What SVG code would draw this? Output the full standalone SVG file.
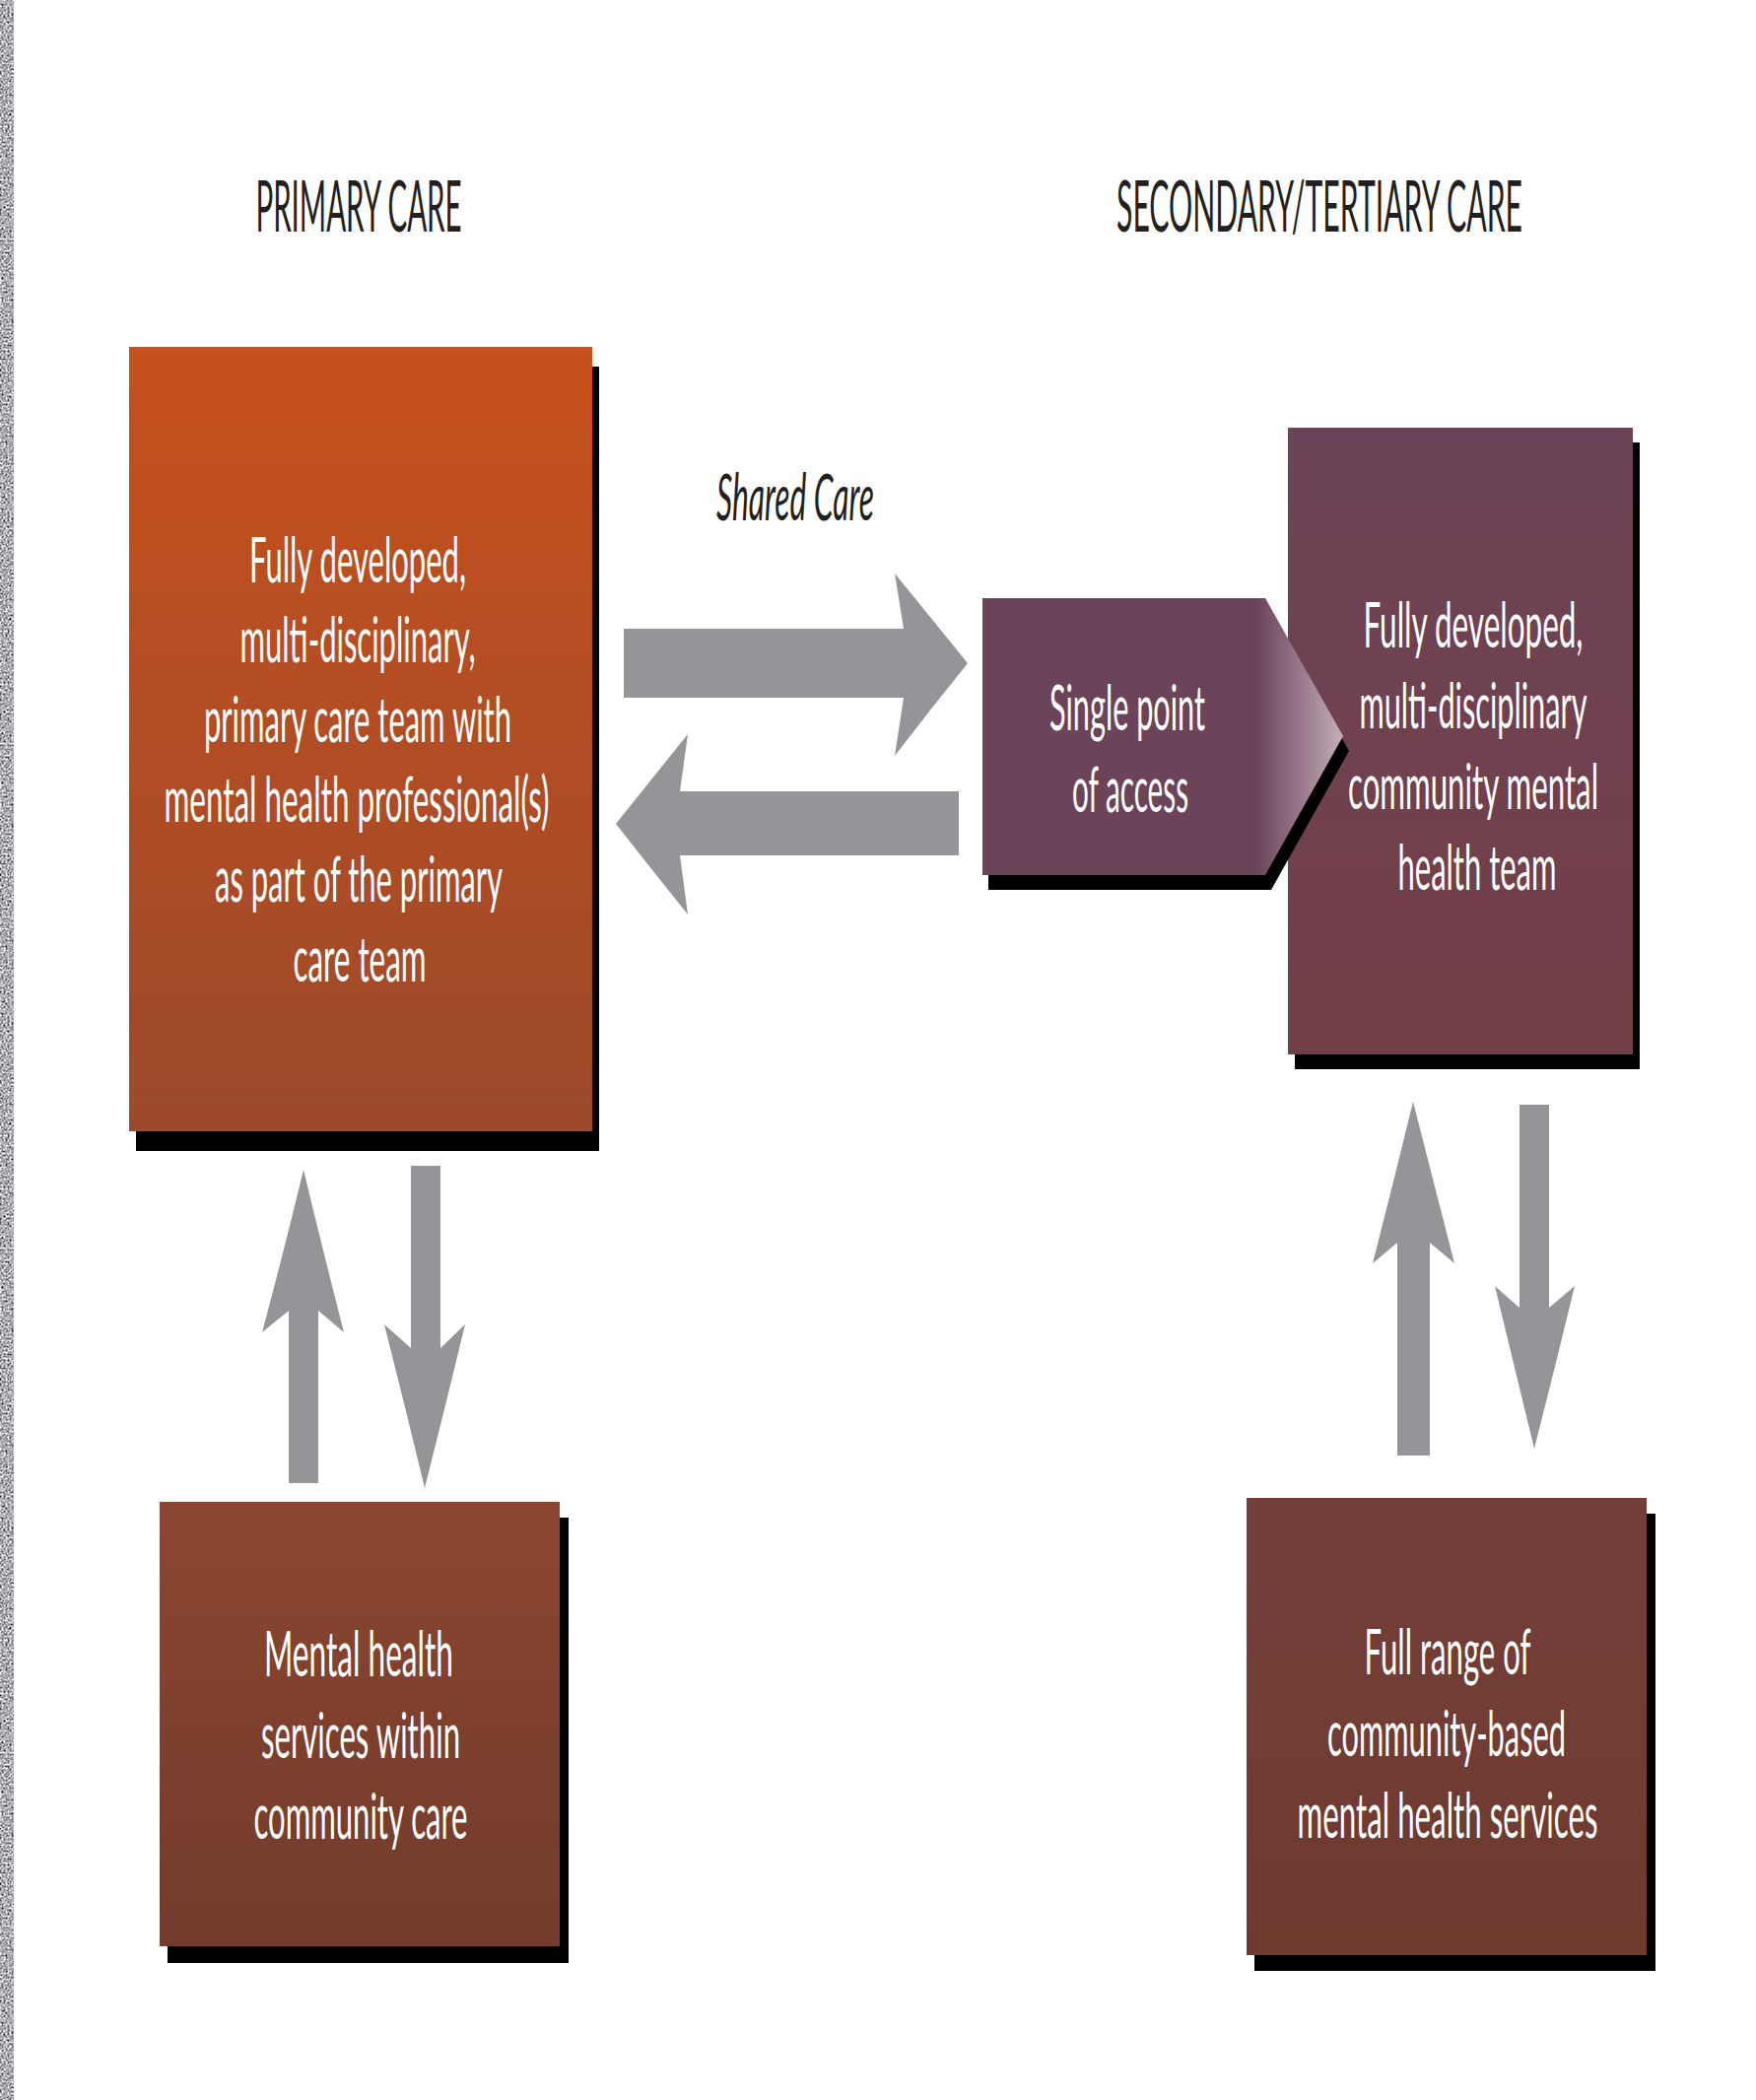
<svg xmlns="http://www.w3.org/2000/svg" width="1782" height="2131" viewBox="0 0 1782 2131">
<style>
.head{font-family:Lato,"Open Sans","Liberation Sans",sans-serif;font-size:72px;fill:#231f20;text-anchor:middle}
.ital{font-family:Lato,"Open Sans","Liberation Sans",sans-serif;font-size:66px;font-style:italic;fill:#231f20;text-anchor:middle}
.lbl{font-family:Lato,"Open Sans","Liberation Sans",sans-serif;font-size:63px;fill:#ffffff;text-anchor:middle}
.shadow{fill:#000000}
.arrow{fill:#939598}
</style>
<defs>
<filter id="noise" x="0" y="0" width="100%" height="100%" color-interpolation-filters="sRGB">
<feTurbulence type="fractalNoise" baseFrequency="0.5" numOctaves="2" seed="7"/>
<feColorMatrix type="matrix" values="0.9 0.9 0.9 0 -0.68  0.9 0.9 0.9 0 -0.68  0.9 0.9 0.9 0 -0.66  0 0 0 0 1"/>
</filter>
<linearGradient id="gOrange" x1="0" y1="0" x2="0" y2="1">
<stop offset="0" stop-color="#c7501d"/>
<stop offset="1" stop-color="#9c4a2b"/>
</linearGradient>
<linearGradient id="gPurple" x1="0" y1="0" x2="0" y2="1">
<stop offset="0" stop-color="#6c4458"/>
<stop offset="1" stop-color="#733f46"/>
</linearGradient>
<linearGradient id="gPent" gradientUnits="userSpaceOnUse" x1="1276" y1="0" x2="1363" y2="0">
<stop offset="0" stop-color="#6c4459"/>
<stop offset="1" stop-color="#c4aebb"/>
</linearGradient>
<linearGradient id="gBL" x1="0" y1="0" x2="0" y2="1">
<stop offset="0" stop-color="#8b4630"/>
<stop offset="1" stop-color="#723b2b"/>
</linearGradient>
<linearGradient id="gBR" x1="0" y1="0" x2="0" y2="1">
<stop offset="0" stop-color="#723f3a"/>
<stop offset="1" stop-color="#6f3a2e"/>
</linearGradient>
</defs>
<rect x="0" y="0" width="1782" height="2131" fill="#ffffff"/>
<rect x="0" y="0" width="14" height="2131" filter="url(#noise)"/>

<g id="heading-primary"><text class="head" transform="translate(364,235) scale(0.5,1)" textLength="418" lengthAdjust="spacingAndGlyphs">PRIMARY CARE</text></g>
<g id="heading-secondary"><text class="head" transform="translate(1339,235) scale(0.5,1)" textLength="824" lengthAdjust="spacingAndGlyphs">SECONDARY/TERTIARY CARE</text></g>

<g id="node-primary-team">
<rect class="shadow" x="138" y="372" width="470" height="796"/>
<rect x="131" y="352" width="470" height="796" fill="url(#gOrange)"/>
<text class="lbl" transform="translate(363,591) scale(0.5,1)" textLength="440" lengthAdjust="spacingAndGlyphs">Fully developed,</text>
<text class="lbl" transform="translate(363,672) scale(0.5,1)" textLength="478" lengthAdjust="spacingAndGlyphs">multi-disciplinary,</text>
<text class="lbl" transform="translate(363,753) scale(0.5,1)" textLength="624" lengthAdjust="spacingAndGlyphs">primary care team with</text>
<text class="lbl" transform="translate(362,834) scale(0.5,1)" textLength="782" lengthAdjust="spacingAndGlyphs">mental health professional(s)</text>
<text class="lbl" transform="translate(364,915) scale(0.5,1)" textLength="584" lengthAdjust="spacingAndGlyphs">as part of the primary</text>
<text class="lbl" transform="translate(365,996) scale(0.5,1)" textLength="270" lengthAdjust="spacingAndGlyphs">care team</text>
</g>

<g id="node-cmht">
<rect class="shadow" x="1314" y="449" width="350" height="636"/>
<rect x="1307" y="434" width="350" height="636" fill="url(#gPurple)"/>
<text class="lbl" transform="translate(1495,657) scale(0.5,1)" textLength="446" lengthAdjust="spacingAndGlyphs">Fully developed,</text>
<text class="lbl" transform="translate(1495,739) scale(0.5,1)" textLength="462" lengthAdjust="spacingAndGlyphs">multi-disciplinary</text>
<text class="lbl" transform="translate(1495,821) scale(0.5,1)" textLength="508" lengthAdjust="spacingAndGlyphs">community mental</text>
<text class="lbl" transform="translate(1499,903) scale(0.5,1)" textLength="322" lengthAdjust="spacingAndGlyphs">health team</text>
</g>

<g id="node-single-point">
<path class="shadow" d="M1003,622 L1290,622 L1369,762 L1290,903 L1003,903 Z"/>
<path d="M997,607 L1284,607 L1363,747 L1284,888 L997,888 Z" fill="url(#gPent)"/>
<text class="lbl" transform="translate(1144,741) scale(0.5,1)" textLength="316" lengthAdjust="spacingAndGlyphs">Single point</text>
<text class="lbl" transform="translate(1147,824) scale(0.5,1)" textLength="236" lengthAdjust="spacingAndGlyphs">of access</text>
</g>

<g id="node-community-care">
<rect class="shadow" x="170" y="1540" width="407" height="452"/>
<rect x="162" y="1524" width="406" height="451" fill="url(#gBL)"/>
<text class="lbl" transform="translate(364,1701) scale(0.5,1)" textLength="384" lengthAdjust="spacingAndGlyphs">Mental health</text>
<text class="lbl" transform="translate(366,1784) scale(0.5,1)" textLength="404" lengthAdjust="spacingAndGlyphs">services within</text>
<text class="lbl" transform="translate(366,1866) scale(0.5,1)" textLength="434" lengthAdjust="spacingAndGlyphs">community care</text>
</g>

<g id="node-community-services">
<rect class="shadow" x="1273" y="1536" width="407" height="464"/>
<rect x="1265" y="1520" width="406" height="464" fill="url(#gBR)"/>
<text class="lbl" transform="translate(1469,1699) scale(0.5,1)" textLength="338" lengthAdjust="spacingAndGlyphs">Full range of</text>
<text class="lbl" transform="translate(1468,1782) scale(0.5,1)" textLength="484" lengthAdjust="spacingAndGlyphs">community-based</text>
<text class="lbl" transform="translate(1469,1865) scale(0.5,1)" textLength="610" lengthAdjust="spacingAndGlyphs">mental health services</text>
</g>

<g id="connectors">
<text class="ital" transform="translate(807,528) scale(0.5,1)" textLength="320" lengthAdjust="spacingAndGlyphs">Shared Care</text>
<path class="arrow" d="M633,638 L917,638 L908,582 Q944,626 982,673 Q944,720 908,767 L917,708 L633,708 Z"/>
<path class="arrow" d="M973,803 L690,803 L698,745 Q661,791 625,836 Q661,882 698,928 L690,868 L973,868 Z"/>
<path class="arrow" d="M293,1505 L293,1330 L266,1352 Q288,1270 308,1187 Q328,1270 349,1352 L323,1330 L323,1505 Z"/>
<path class="arrow" d="M417,1183 L447,1183 L447,1368 L472,1344 Q452,1427 431,1510 Q411,1427 390,1344 L417,1368 Z"/>
<path class="arrow" d="M1418,1477 L1418,1261 L1393,1282 Q1414,1200 1434,1118 Q1455,1200 1476,1282 L1451,1261 L1451,1477 Z"/>
<path class="arrow" d="M1542,1121 L1572,1121 L1572,1327 L1598,1305 Q1578,1388 1557,1470 Q1537,1388 1517,1305 L1542,1327 Z"/>
</g>
</svg>
